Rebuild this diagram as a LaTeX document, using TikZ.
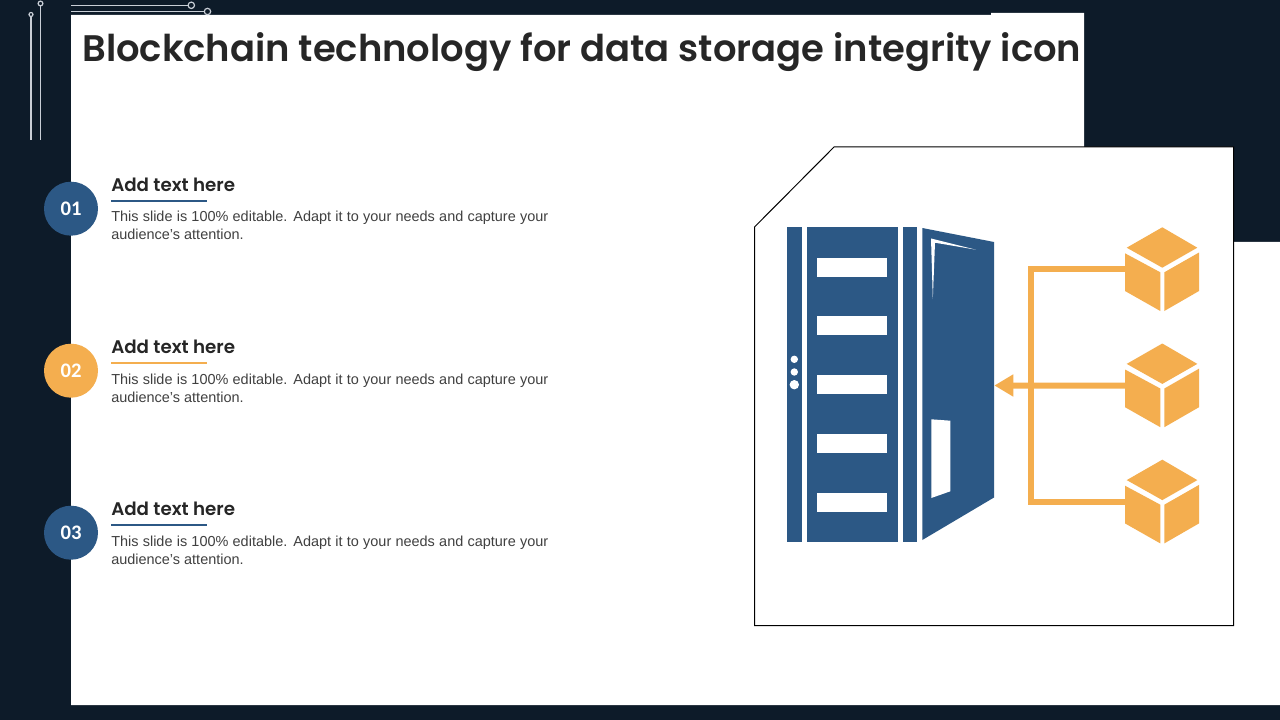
\documentclass[tikz,border=0pt]{standalone}
\usepackage{fontspec}
\setmainfont{Liberation Sans}
\newfontfamily\headfont[BoldFont={Poppins SemiBold}]{Poppins}
\newfontfamily\numfont{Carlito}
\usetikzlibrary{calc,arrows.meta}
\definecolor{navy}{HTML}{0D1B29}
\definecolor{doorblue}{HTML}{2C5885}
\definecolor{boxorange}{HTML}{F4AE4F}
\definecolor{wire}{HTML}{C8CED6}
\definecolor{inktext}{HTML}{262626}
\definecolor{bodytext}{HTML}{404040}

\begin{document}
\begin{tikzpicture}[x=0.75pt,y=-0.75pt]
\tikzstyle{wireline}=[draw=wire,line width=0.9pt]
\tikzstyle{badge}=[circle,minimum size=40.5pt,inner sep=0pt,text=white,font=\numfont\bfseries\fontsize{15.5}{16}\selectfont]
\tikzstyle{heading}=[anchor=base west,inner sep=0pt,text=inktext,font=\headfont\bfseries\fontsize{13.7}{16}\selectfont]
\tikzstyle{body}=[anchor=north west,inner sep=0pt,text width=327.75pt,align=justify,text=bodytext,font=\fontsize{10.85}{13.5}\selectfont]
\tikzstyle{feed}=[draw=boxorange,line width=4.5pt]

\useasboundingbox (0,0) rectangle (1280,720);

% This draws the dark page and the white sheet.
\fill[navy] (0,0) rectangle (1280,720);
\fill[white] (71,15) -- (991,15) -- (991,13) -- (1084,13) -- (1084,242) -- (1280,242) -- (1280,705) -- (71,705) -- cycle;

% This draws the thin lines in the corner.
\draw[wireline] (31,140) -- (31,17) (40.5,140) -- (40.5,6);
\draw[wireline] (71,5.3) -- (188,5.3) (71,11.4) -- (204.5,11.4);
\draw[wireline] (31,14.5) circle (2) (40.5,3.5) circle (2.4);
\draw[wireline] (191.3,5.3) circle (3.2) (207.5,11.5) circle (3.2);

% This draws the title.
\node[anchor=base west,inner sep=0pt,text=inktext,font=\headfont\bfseries\fontsize{27.7}{30}\selectfont] (title) at (82,62) {Blockchain technology for data storage integrity icon};

% This draws the three text rows.
\foreach \i/\tone/\ypos/\yoff in {1/doorblue/0/0,2/boxorange/162/1,3/doorblue/324/1}{
  \node[badge,fill=\tone] (badge\i) at (71,208.7+\ypos) {0\i};
  \node[heading] (head\i) at (111,191.6+\ypos) {Add text here};
  \draw[\tone,line width=1.5pt] ($(head\i.base west)+(0,9.1)$) -- ++(96,0);
  \node[body] (text\i) at (111,210.5+\ypos+\yoff) {This slide is 100\% editable. Adapt it to your needs and capture your audience's attention.};
}

% This draws the panel.
\draw[black,line width=0.75pt,fill=white] (834,147) -- (1233.5,147) -- (1233.5,625.5) -- (754.5,625.5) -- (754.5,227) -- cycle;

% This draws the rack.
\fill[doorblue] (787,227) rectangle (801.7,541.7);
\fill[doorblue] (806.5,227) rectangle (898,541.7);
\fill[doorblue] (903,227) rectangle (917.3,541.7);
\foreach \ypos in {257.5,316.3,375,433.7,492.7}
  \fill[white] (817.3,\ypos) rectangle (887,\ypos+19);
\fill[white] (794.3,359.3) circle (3.7) (794.3,372) circle (3.7) (794.3,384.7) circle (4.7);

% This draws the open door.
\fill[doorblue] (922.3,228) -- (994,242) -- (994,497.5) -- (922.3,540) -- cycle;
\fill[white] (931,238.5) -- (976,249.7) -- (935,242.7) -- (932.8,299) -- cycle;
\fill[white] (931.3,419.3) -- (950.3,420.7) -- (950.3,491.3) -- (931.3,498) -- cycle;

% This draws the cubes.
\foreach \i/\ypos in {1/0,2/116.2,3/232.4}{
  \begin{scope}[yshift=-\ypos*0.75pt]
    \fill[boxorange] (1162.3,227.3) -- (1197.3,247.7) -- (1162.3,267.7) -- (1126.7,247.7) -- cycle;
    \fill[boxorange] (1125,253.3) -- (1160.3,272.3) -- (1160.3,311) -- (1125,291) -- cycle;
    \fill[boxorange] (1164.3,272.3) -- (1199,252.5) -- (1199,291) -- (1164.3,311) -- cycle;
    \coordinate (cube\i) at (1125.5,269.3);
  \end{scope}
}

% This draws the feeds into the door.
\coordinate (doortip) at (994.3,385.5);
\draw[feed,line join=miter] (cube1) -- (1030.7,269.3) |- (cube3);
\draw[feed,-{Triangle[length=14.25pt,width=15.75pt]}] (cube2) -- (doortip);
\end{tikzpicture}
\end{document}
